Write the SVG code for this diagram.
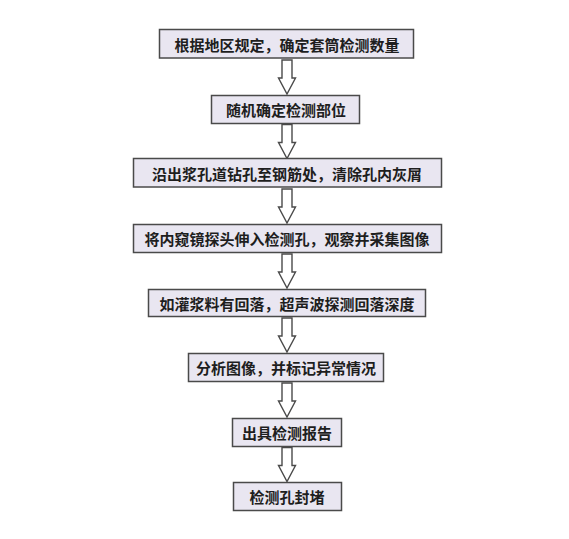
<svg xmlns="http://www.w3.org/2000/svg" width="569" height="539" viewBox="0 0 569 539">
<style>
.box{fill:#e9e6f1;stroke:#4a4a4a;stroke-width:1.5}
.lbl{font-family:"Noto Sans CJK SC","Noto Sans",sans-serif;font-weight:bold;font-size:15px;fill:#1e1e1e;text-anchor:middle;dominant-baseline:central}
.arr{fill:#ffffff;stroke:#4a4a4a;stroke-width:1.4;stroke-linejoin:miter}
</style>
<defs>
<path id="ar" d="M-5,0 H5 V18 H8.5 L0,34 L-8.5,18 H-5 Z"/>
</defs>
<rect width="569" height="539" fill="#ffffff"/>
<g id="connectors">
<use href="#ar" class="arr" x="287" y="60"/>
<use href="#ar" class="arr" x="287" y="124.5"/>
<use href="#ar" class="arr" x="287" y="189"/>
<use href="#ar" class="arr" x="287" y="254"/>
<use href="#ar" class="arr" x="287" y="318"/>
<use href="#ar" class="arr" x="287" y="383"/>
<use href="#ar" class="arr" x="287" y="447.5"/>
</g>
<g id="n1"><rect class="box" x="159.5" y="29.5" width="254" height="28.5"/><text class="lbl" x="287" y="44">根据地区规定，确定套筒检测数量</text></g>
<g id="n2"><rect class="box" x="211.5" y="95.5" width="148" height="28"/><text class="lbl" x="286" y="109.5">随机确定检测部位</text></g>
<g id="n3"><rect class="box" x="133.5" y="158.5" width="308" height="28.5"/><text class="lbl" x="287" y="173">沿出浆孔道钻孔至钢筋处，清除孔内灰屑</text></g>
<g id="n4"><rect class="box" x="133.5" y="224.5" width="308" height="28"/><text class="lbl" x="287" y="238.5">将内窥镜探头伸入检测孔，观察并采集图像</text></g>
<g id="n5"><rect class="box" x="148.5" y="289.5" width="277" height="27"/><text class="lbl" x="287" y="303">如灌浆料有回落，超声波探测回落深度</text></g>
<g id="n6"><rect class="box" x="188.5" y="353.5" width="195" height="28"/><text class="lbl" x="286" y="367.5">分析图像，并标记异常情况</text></g>
<g id="n7"><rect class="box" x="232.5" y="418.5" width="109" height="28"/><text class="lbl" x="287" y="432.5">出具检测报告</text></g>
<g id="n8"><rect class="box" x="233.5" y="482.5" width="108" height="28"/><text class="lbl" x="287" y="496.5">检测孔封堵</text></g>
</svg>
